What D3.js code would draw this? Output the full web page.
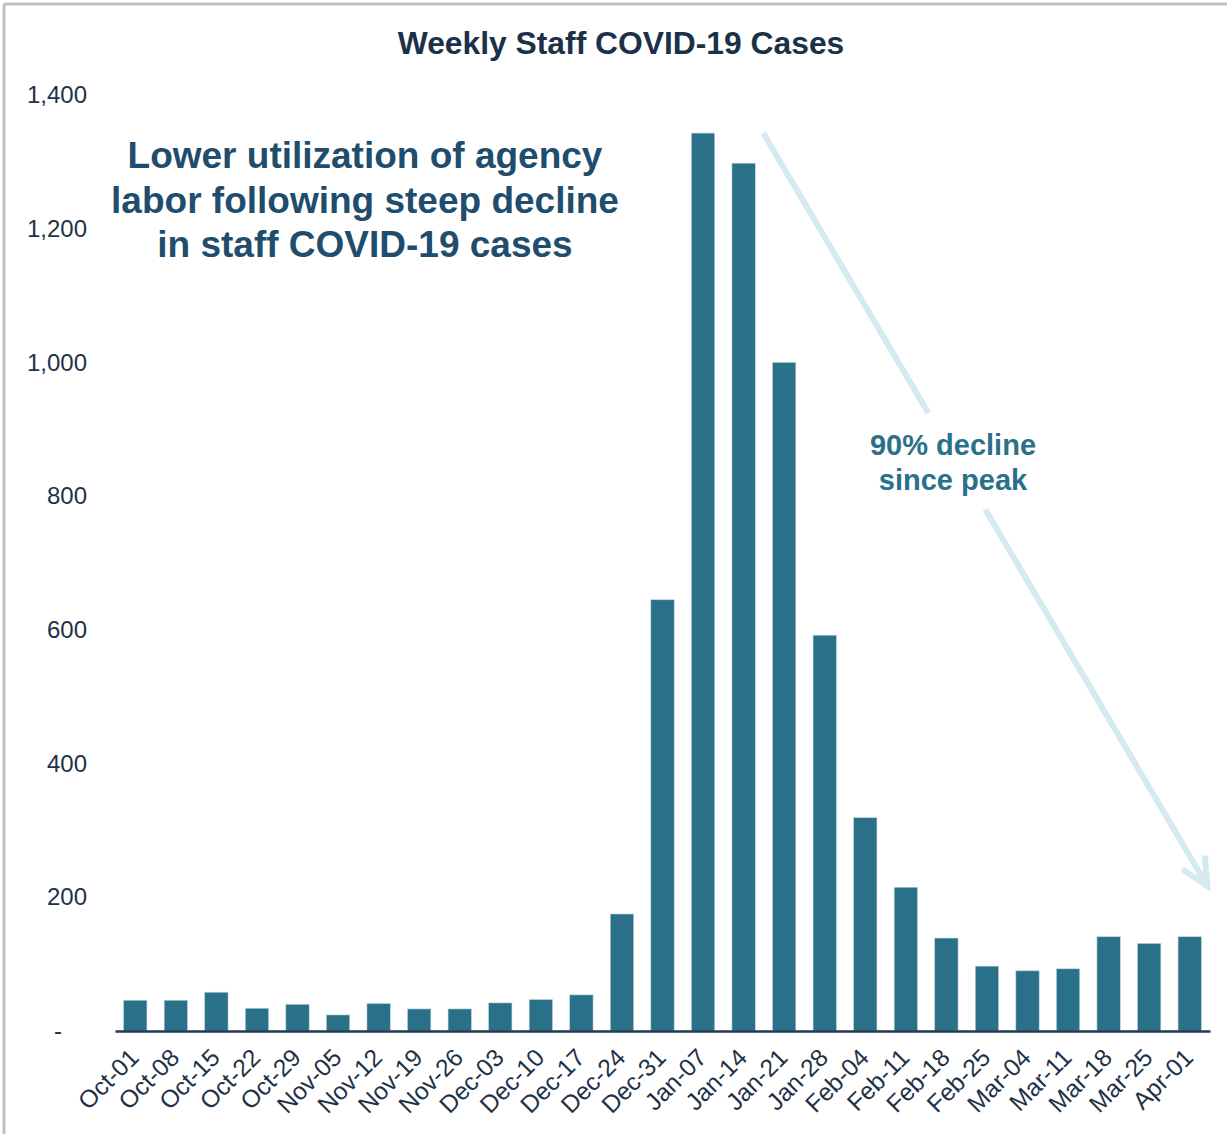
<!DOCTYPE html>
<html>
<head>
<meta charset="utf-8">
<script src="https://cdn.jsdelivr.net/npm/d3@7"></script>
<style>
  html, body { margin: 0; padding: 0; background: #fff; }
  svg { display: block; font-family: Arial, "Liberation Sans", sans-serif; }
</style>
</head>
<body>
<svg id="chart" width="1227" height="1134"></svg>
<script>
// Weekly staff COVID-19 case counts
const weeks = ["Oct-01","Oct-08","Oct-15","Oct-22","Oct-29","Nov-05","Nov-12","Nov-19","Nov-26",
  "Dec-03","Dec-10","Dec-17","Dec-24","Dec-31","Jan-07","Jan-14","Jan-21","Jan-28",
  "Feb-04","Feb-11","Feb-18","Feb-25","Mar-04","Mar-11","Mar-18","Mar-25","Apr-01"];
const cases = [46, 46, 58, 34, 40, 24, 41, 33, 33, 42, 47, 54, 175, 645, 1343, 1298, 1000, 592,
  319, 215, 139, 97, 90, 93, 141, 131, 141];
const yTicks = [0, 200, 400, 600, 800, 1000, 1200, 1400];
const titleText = "Weekly Staff COVID-19 Cases";
const calloutLines = ["Lower utilization of agency", "labor following steep decline", "in staff COVID-19 cases"];
const declineLines = ["90% decline", "since peak"];

const svg = d3.select("#chart");
const W = 1227, H = 1134;

const x = d3.scaleBand().domain(weeks).range([115, 1210]).paddingInner(0.425).paddingOuter(0.2125);
const y = d3.scaleLinear().domain([0, 1400]).range([1031, 95]);

// frame (top and left edges)
svg.append("line").attr("x1", 4).attr("x2", W).attr("y1", 4).attr("y2", 4)
  .attr("stroke", "#c0c0c0").attr("stroke-width", 3);
svg.append("line").attr("x1", 4).attr("x2", 4).attr("y1", 4).attr("y2", H)
  .attr("stroke", "#c0c0c0").attr("stroke-width", 3);

// title
svg.append("text").attr("x", 621).attr("y", 54).attr("text-anchor", "middle")
  .attr("font-size", 31.8).attr("font-weight", "bold").attr("fill", "#1b3149")
  .text(titleText);

// bars
svg.append("g").selectAll("rect").data(weeks).join("rect")
  .attr("x", d => x(d))
  .attr("width", x.bandwidth())
  .attr("y", (d, i) => y(cases[i]))
  .attr("height", (d, i) => y(0) - y(cases[i]))
  .attr("fill", "#2a7089")
  .attr("stroke", "#b9d3dc").attr("stroke-width", 0.6);

// y axis labels, accounting-style dash for zero
const yAxis = d3.axisLeft(y).tickValues(yTicks).tickSize(0).tickPadding(0)
  .tickFormat(d => d === 0 ? "-" : d3.format(",")(d));
const gy = svg.append("g").attr("transform", "translate(87,0)").call(yAxis);
gy.select(".domain").remove();
gy.selectAll("text").attr("font-size", 24).attr("fill", "#1e3247")
  .attr("font-family", "Arial, 'Liberation Sans', sans-serif")
  .attr("x", d => d === 0 ? -25 : 0);

// x axis
const xAxis = d3.axisBottom(x).tickSize(0).tickPadding(0);
const gx = svg.append("g").attr("transform", `translate(0,${y(0)})`).call(xAxis);
gx.select(".domain").attr("stroke", "#1f3a52").attr("stroke-width", 2.5);
gx.selectAll("text")
  .attr("font-size", 24.5).attr("fill", "#1e3247")
  .attr("font-family", "Arial, 'Liberation Sans', sans-serif")
  .attr("text-anchor", "end")
  .attr("dy", "0")
  .attr("transform", "translate(5,28) rotate(-45)");

// callout headline
const callout = svg.append("text").attr("text-anchor", "middle")
  .attr("font-size", 37).attr("font-weight", "bold").attr("fill", "#1f4d6e");
calloutLines.forEach((t, i) => {
  callout.append("tspan").attr("x", 365).attr("y", 168 + i * 44.5).text(t);
});

// decline arrow from peak down toward the latest week
const peakIdx = cases.indexOf(d3.max(cases));
const x0 = x(weeks[peakIdx + 1]) + x.bandwidth() + 8, y0 = y(cases[peakIdx]);
const x1 = x(weeks[weeks.length - 1]) + x.bandwidth() + 6, y1 = y(217);
const dx = x1 - x0, dy = y1 - y0, len = Math.hypot(dx, dy);
const ux = dx / len, uy = dy / len;
const gapA = 0.372, gapB = 0.5;
const arrowColor = "#d4eaf0";
const seg = (ta, tb) => svg.append("line")
  .attr("x1", x0 + dx * ta).attr("y1", y0 + dy * ta)
  .attr("x2", x0 + dx * tb).attr("y2", y0 + dy * tb)
  .attr("stroke", arrowColor).attr("stroke-width", 6);
seg(0, gapA);
seg(gapB, 1);
const headLen = 25, headHalf = 12;
const bx = x1 - ux * headLen, by = y1 - uy * headLen;
svg.append("path")
  .attr("d", `M${bx + uy * headHalf},${by - ux * headHalf} L${x1},${y1} L${bx - uy * headHalf},${by + ux * headHalf}`)
  .attr("fill", "none").attr("stroke", arrowColor).attr("stroke-width", 6)
  .attr("stroke-linecap", "round").attr("stroke-linejoin", "miter");

// decline label
const decl = svg.append("text").attr("text-anchor", "middle")
  .attr("font-size", 29).attr("font-weight", "bold").attr("fill", "#2a7089");
declineLines.forEach((t, i) => {
  decl.append("tspan").attr("x", 953).attr("y", 455 + i * 35).text(t);
});
</script>
</body>
</html>
